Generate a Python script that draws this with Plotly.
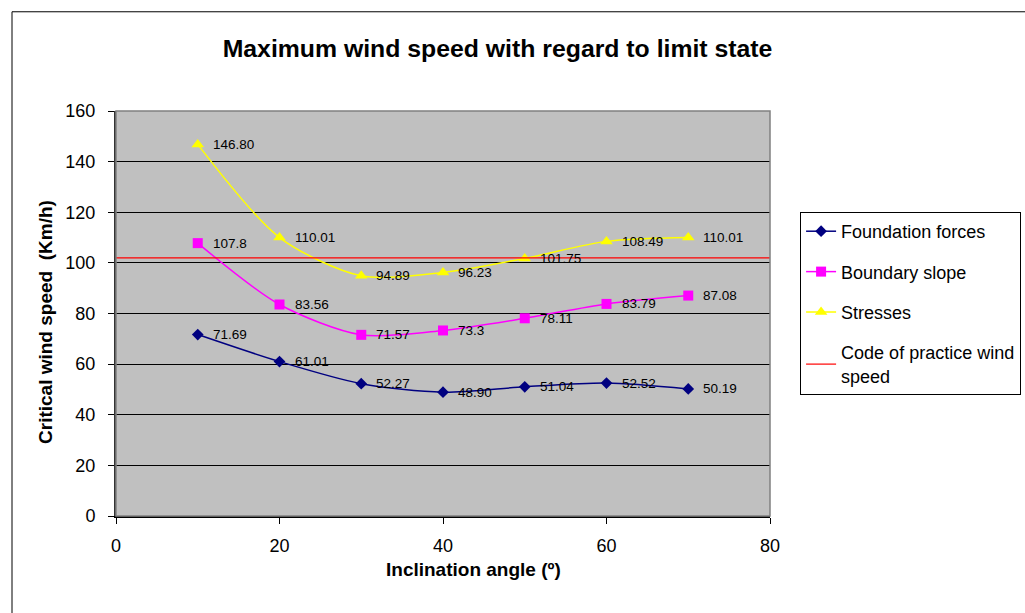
import plotly.graph_objects as go

angles = [10, 20, 30, 40, 50, 60, 70]
foundation = [71.69, 61.01, 52.27, 48.90, 51.04, 52.52, 50.19]
foundation_lbl = ["71.69", "61.01", "52.27", "48.90", "51.04", "52.52", "50.19"]
boundary = [107.8, 83.56, 71.57, 73.3, 78.11, 83.79, 87.08]
boundary_lbl = ["107.8", "83.56", "71.57", "73.3", "78.11", "83.79", "87.08"]
stresses = [146.80, 110.01, 94.89, 96.23, 101.75, 108.49, 110.01]
stresses_lbl = ["146.80", "110.01", "94.89", "96.23", "101.75", "108.49", "110.01"]
code_x = [0, 80]
code_speed = [102, 102]

FONT = "Liberation Sans, Arial, sans-serif"

fig = go.Figure()
fig.add_trace(go.Scatter(x=angles, y=foundation, name="Foundation forces", legendgroup="a",
                         mode="lines+markers", line=dict(color="#000080", width=1.5, shape="spline", smoothing=0.8),
                         marker=dict(symbol="diamond", size=9, color="#000080")))
fig.add_trace(go.Scatter(x=angles, y=boundary, name="Boundary slope", legendgroup="b",
                         mode="lines+markers", line=dict(color="#FF00FF", width=1.5, shape="spline", smoothing=0.8),
                         marker=dict(symbol="square", size=10, color="#FF00FF")))
fig.add_trace(go.Scatter(x=angles, y=stresses, name="Stresses", legendgroup="c",
                         mode="lines+markers", line=dict(color="#FFFF00", width=1.5, shape="spline", smoothing=0.8),
                         marker=dict(symbol="triangle-up", size=11, color="#FFFF00")))
fig.add_trace(go.Scatter(x=code_x, y=code_speed, name="Code of practice wind<br>speed", legendgroup="d",
                         mode="lines", line=dict(color="#FF0000", width=1.2)))

annotations = []
for ys, labels in [(foundation, foundation_lbl), (boundary, boundary_lbl), (stresses, stresses_lbl)]:
    for x, y, t in zip(angles, ys, labels):
        annotations.append(dict(x=x, y=y, text=t, showarrow=False, xanchor="left", yanchor="middle",
                                xshift=13, font=dict(family=FONT, size=13.5, color="#000000")))

annotations.append(dict(xref="paper", yref="paper", x=0.547, y=-0.131, xanchor="center", yanchor="middle",
                        text="<b>Inclination angle (º)</b>", showarrow=False,
                        font=dict(family=FONT, size=19, color="#000000")))
annotations.append(dict(xref="paper", yref="paper", x=-0.1086, y=0.479, xanchor="center", yanchor="middle",
                        text="<b>Critical wind speed&nbsp; (Km/h)</b>", showarrow=False, textangle=-90,
                        font=dict(family=FONT, size=19, color="#000000")))

shapes = [
    dict(type="rect", xref="paper", yref="paper", x0=0, y0=0, x1=1, y1=1,
         line=dict(color="#808080", width=1.5), layer="above"),
    dict(type="rect", xref="paper", yref="paper", x0=-0.159, y0=-0.26, x1=1.41, y1=1.245,
         line=dict(color="#000000", width=1)),
]

fig.update_layout(
    width=1025, height=613,
    margin=dict(l=116, r=255, t=111, b=97, autoexpand=False),
    paper_bgcolor="#FFFFFF", plot_bgcolor="#C0C0C0",
    font=dict(family=FONT, size=18, color="#000000"),
    title=dict(text="<b>Maximum wind speed with regard to limit state</b>",
               x=0.4854, xanchor="center", y=0.921, yanchor="middle",
               font=dict(family=FONT, size=24.8, color="#000000")),
    showlegend=True,
    legend=dict(x=1.046, y=0.7506, xanchor="left", yanchor="top",
                bordercolor="#000000", borderwidth=1, bgcolor="#FFFFFF",
                font=dict(family=FONT, size=18, color="#000000"),
                tracegroupgap=14, itemwidth=30),
    annotations=annotations,
    shapes=shapes,
)
fig.update_xaxes(range=[0, 80], dtick=20, showgrid=False, zeroline=False,
                 showline=True, linecolor="#000000", linewidth=2,
                 ticks="outside", ticklen=6, tickcolor="#000000",
                 ticklabelstandoff=6,
                 tickfont=dict(family=FONT, size=18))
fig.update_yaxes(range=[0, 160], dtick=20, showgrid=True, gridcolor="#000000", gridwidth=1,
                 zeroline=False, showline=True, linecolor="#333333", linewidth=2,
                 ticks="outside", ticklen=6, tickcolor="#000000",
                 ticklabelstandoff=9,
                 tickfont=dict(family=FONT, size=18))

fig.write_html("out.html")
